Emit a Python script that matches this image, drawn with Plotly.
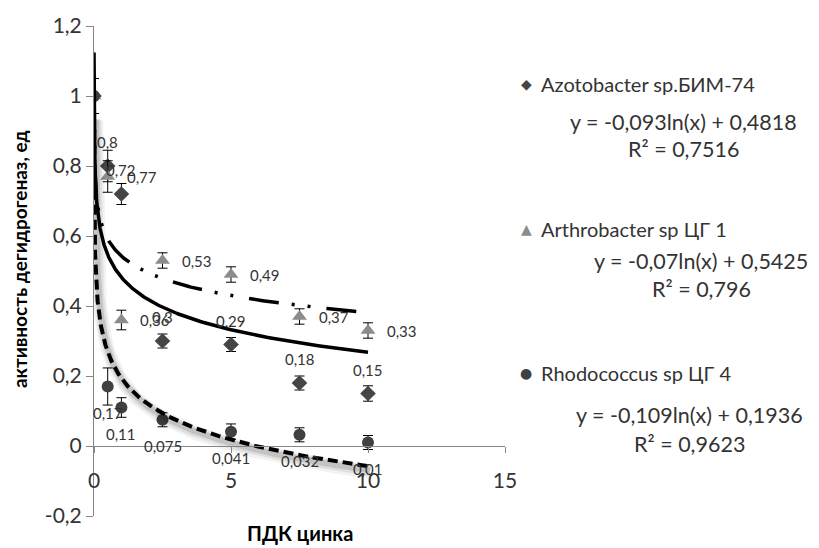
import numpy as np
import plotly.graph_objects as go

# ---------------- data ----------------
x_pdk = [0, 0.5, 1, 2.5, 5, 7.5, 10]

azo_name = "Azotobacter sp.БИМ-74"
azo_y = [1.0, 0.80, 0.72, 0.30, 0.29, 0.18, 0.15]
azo_err = [0.05, 0.045, 0.03, 0.02, 0.02, 0.02, 0.022]
azo_labels = ["", "0,8", "0,72", "0,3", "0,29", "0,18", "0,15"]
azo_coef = (-0.093, 0.4818)
azo_r2 = 0.7516

arth_name = "Arthrobacter sp ЦГ 1"
arth_y = [1.0, 0.77, 0.36, 0.53, 0.49, 0.37, 0.33]
arth_err = [0.0, 0.045, 0.028, 0.022, 0.022, 0.022, 0.022]
arth_labels = ["", "0,77", "0,36", "0,53", "0,49", "0,37", "0,33"]
arth_coef = (-0.07, 0.5425)
arth_r2 = 0.796

rhod_name = "Rhodococcus sp ЦГ 4"
rhod_y = [1.0, 0.17, 0.11, 0.075, 0.041, 0.032, 0.01]
rhod_err = [0.0, 0.053, 0.028, 0.02, 0.022, 0.02, 0.02]
rhod_labels = ["", "0,17", "0,11", "0,075", "0,041", "0,032", "0,01"]
rhod_coef = (-0.109, 0.1936)
rhod_r2 = 0.9623

y_tickvals = [-0.2, 0, 0.2, 0.4, 0.6, 0.8, 1.0, 1.2]
y_ticktext = ["-0,2", "0", "0,2", "0,4", "0,6", "0,8", "1", "1,2"]
x_tickvals = [0, 5, 10, 15]
x_ticktext = ["0", "5", "10", "15"]

x_title = "ПДК цинка"
y_title = "активность дегидрогеназ, ед"

# ---------------- styling ----------------
FONT = "Lato, 'Open Sans', sans-serif"
TXT = "#333333"
AX = "#868686"
W, H = 819, 548
L, R, T, B = 94, 505, 24, 516


def pxx(p):
    return (p - L) / (R - L)


def pxy(p):
    return (B - p) / (B - T)


def fmt(v):
    return ("%g" % v).replace(".", ",")


def eq(coef):
    a, b = coef
    return "y = %sln(x) + %s" % (fmt(a), fmt(b))


fig = go.Figure()

err_style = dict(type="data", color="black", thickness=1, width=5)

fig.add_trace(go.Scatter(x=x_pdk, y=azo_y, mode="markers", name=azo_name,
                         marker=dict(symbol="diamond", size=12, color="#454545"),
                         error_y=dict(array=azo_err, **err_style)))
fig.add_trace(go.Scatter(x=x_pdk, y=arth_y, mode="markers", name=arth_name,
                         marker=dict(symbol="triangle-up", size=13, color="#8c8c8c"),
                         error_y=dict(array=arth_err, **err_style)))
fig.add_trace(go.Scatter(x=x_pdk, y=rhod_y, mode="markers", name=rhod_name,
                         marker=dict(symbol="circle", size=12, color="#404040"),
                         error_y=dict(array=rhod_err, **err_style)))

# trend lines
xt = np.geomspace(0.001, 10, 400)


def trend(coef):
    return coef[0] * np.log(xt) + coef[1]


# soft shadow under the Rhodococcus trend line
for wdt, col, off in [(14, "rgba(0,0,0,0.05)", 0.016), (10, "rgba(0,0,0,0.08)", 0.014),
                      (6, "rgba(0,0,0,0.12)", 0.012)]:
    fig.add_trace(go.Scatter(x=xt + 0.08, y=trend(rhod_coef) - off, mode="lines",
                             line=dict(color=col, width=wdt), hoverinfo="skip"))

fig.add_trace(go.Scatter(x=xt, y=trend(azo_coef), mode="lines",
                         line=dict(color="black", width=3.5)))
fig.add_trace(go.Scatter(x=xt, y=trend(arth_coef), mode="lines",
                         line=dict(color="black", width=3.5,
                                   dash="30px,13px,3px,13px,3px,16px")))
fig.add_trace(go.Scatter(x=xt, y=trend(rhod_coef), mode="lines",
                         line=dict(color="black", width=4, dash="10px,5px")))

annotations = []
lab_font = dict(family=FONT, size=15, color=TXT)
for xs, ys, labs, dx, dy in [(x_pdk, azo_y, azo_labels, 0, 24),
                             (x_pdk, arth_y, arth_labels, 34, 0),
                             (x_pdk, rhod_y, rhod_labels, 0, -26)]:
    for xv, yv, lb in zip(xs, ys, labs):
        if lb:
            annotations.append(dict(x=xv, y=yv, xref="x", yref="y", text=lb,
                                    showarrow=False, xshift=dx, yshift=dy,
                                    font=lab_font))

# legend-like block on the right
name_font = dict(family=FONT, size=20, color=TXT)
eq_font = dict(family=FONT, size=21.5, color=TXT)
entries = [
    (azo_name, "◆", "#454545", 82, eq(azo_coef), 683, 120, azo_r2, 148),
    (arth_name, "▲", "#8c8c8c", 228, eq(arth_coef), 701, 260, arth_r2, 288),
    (rhod_name, "●", "#404040", 372, eq(rhod_coef), 689, 415, rhod_r2, 444),
]
for name, glyph, col, ypx, eqs, eqx, eqy, r2, r2y in entries:
    annotations.append(dict(x=pxx(526), y=pxy(ypx), xref="paper", yref="paper",
                            text=glyph, showarrow=False, xanchor="center", yanchor="middle",
                            font=dict(family="DejaVu Sans", size=14, color=col)))
    annotations.append(dict(x=pxx(539), y=pxy(ypx), xref="paper", yref="paper",
                            text=name, showarrow=False, xanchor="left", yanchor="middle",
                            font=name_font))
    annotations.append(dict(x=pxx(eqx), y=pxy(eqy), xref="paper", yref="paper",
                            text=eqs, showarrow=False, xanchor="center", yanchor="middle",
                            font=eq_font))
    annotations.append(dict(x=pxx(eqx), y=pxy(r2y), xref="paper", yref="paper",
                            text="R² = " + fmt(r2), showarrow=False, xanchor="center",
                            yanchor="middle", font=eq_font))

# axis titles
annotations.append(dict(x=pxx(300), y=pxy(533), xref="paper", yref="paper",
                        text="<b>" + x_title + "</b>", showarrow=False,
                        xanchor="center", yanchor="middle",
                        font=dict(family=FONT, size=20, color="black")))
annotations.append(dict(x=pxx(19), y=pxy(258), xref="paper", yref="paper",
                        text="<b>" + y_title + "</b>", showarrow=False, textangle=-90,
                        xanchor="center", yanchor="middle",
                        font=dict(family=FONT, size=19, color="black")))

fig.update_layout(
    width=W, height=H,
    margin=dict(l=L, r=W - R, t=T, b=H - B, pad=0),
    paper_bgcolor="white", plot_bgcolor="white",
    showlegend=False,
    font=dict(family=FONT, color=TXT),
    annotations=annotations,
    xaxis=dict(range=[0, 15], tickvals=x_tickvals, ticktext=x_ticktext,
               showline=True, linecolor=AX, linewidth=1, ticks="outside",
               ticklen=6, tickcolor=AX, showgrid=False, zeroline=False,
               anchor="free", position=0.2 / 1.4, ticklabelstandoff=10,
               tickfont=dict(family=FONT, size=21, color=TXT)),
    yaxis=dict(range=[-0.2, 1.2], tickvals=y_tickvals, ticktext=y_ticktext,
               showline=True, linecolor=AX, linewidth=1, ticks="outside",
               ticklen=7, tickcolor=AX, showgrid=False, zeroline=False,
               tickfont=dict(family=FONT, size=21, color=TXT)),
)

fig.write_html("out.html")
